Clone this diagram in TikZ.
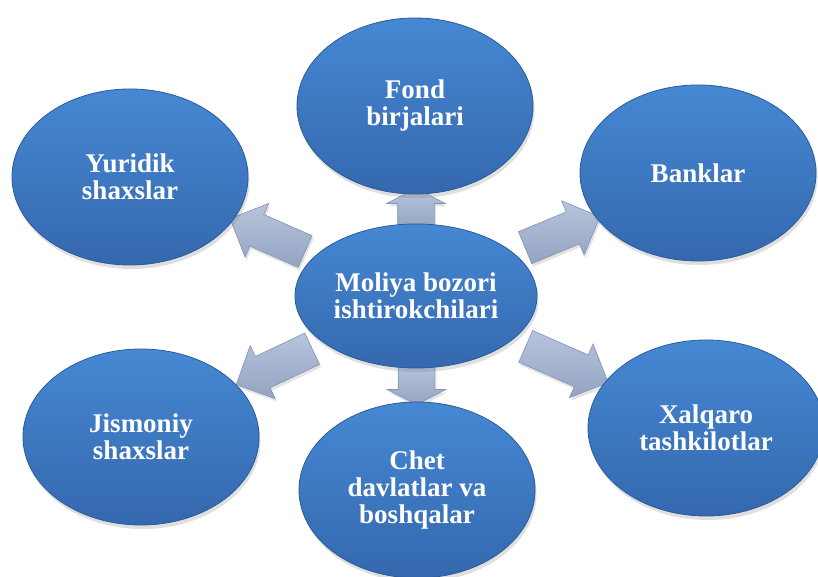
\documentclass[tikz,border=0pt]{standalone}
\usepackage{fontspec}
\setmainfont{Liberation Serif}
\usetikzlibrary{shapes.geometric,shapes.arrows,shadows}

\definecolor{ballTop}{HTML}{4688D3}
\definecolor{ballMid}{HTML}{3D7BC6}
\definecolor{ballBot}{HTML}{3468AE}
\definecolor{ballRim}{HTML}{2C5C98}
\definecolor{arrLight}{HTML}{D3DCEC}
\definecolor{arrMid}{HTML}{B7C4DC}
\definecolor{arrDark}{HTML}{93A3C1}
\definecolor{arrEdge}{HTML}{8393B3}

\tikzset{
  bubble/.style={ellipse, minimum width=236pt, minimum height=176pt,
    inner sep=0pt, top color=ballTop, middle color=ballMid, bottom color=ballBot,
    draw=ballRim, line width=0.8pt, text=white, align=center,
    font=\bfseries\fontsize{27}{27}\selectfont,
    drop shadow={opacity=0.25, shadow xshift=1.5pt, shadow yshift=-4pt}},
  hub/.style={bubble, minimum width=242pt, minimum height=144pt},
  blockarrow/.style={single arrow, minimum width=58pt,
    single arrow head extend=12pt, inner xsep=0pt, inner ysep=17pt,
    single arrow tip angle=90,
    top color=arrMid, middle color=arrLight, bottom color=arrDark,
    draw=arrEdge, line width=0.6pt,
    drop shadow={opacity=0.22, shadow xshift=1.5pt, shadow yshift=-3pt}},
  flatarrow/.style={blockarrow, inner ysep=18pt, single arrow head extend=11pt,
    single arrow tip angle=125}
}

\begin{document}
\begin{tikzpicture}[x=1pt,y=1pt]
  \useasboundingbox (0,0) rectangle (818,577);
  \fill[white] (0,0) rectangle (818,577);

  % block arrows radiating from the hub
  \node[flatarrow, minimum height=42pt, rotate=90]    (aup) at (416,363)   {};
  \node[flatarrow, minimum height=40pt, rotate=-90]   (adn) at (416.5,197) {};
  \node[blockarrow, minimum height=82pt, rotate=156.3] (aul) at (275.5,338.5) {};
  \node[blockarrow, minimum height=81pt, rotate=22.5]  (aur) at (554.5,341.5) {};
  \node[blockarrow, minimum height=90pt, rotate=-23.7] (alr) at (559,216) {};
  \node[blockarrow, minimum height=84pt, rotate=-154.7] (all) at (282,214) {};

  % participants
  \node[bubble] (fond) at (415,471) {Fond\\birjalari};
  \node[bubble] (yur)  at (130,400) {Yuridik\\shaxslar};
  \node[bubble] (bank) at (698,404) {Banklar};
  \node[bubble] (jis)  at (141,140) {Jismoniy\\shaxslar};
  \node[bubble] (chet) at (417,87)  {Chet\\davlatlar va\\boshqalar};
  \node[bubble] (xal)  at (706,149) {Xalqaro\\tashkilotlar};

  % hub
  \node[hub] (hub) at (416,281) {Moliya bozori\\ishtirokchilari};
\end{tikzpicture}
\end{document}
